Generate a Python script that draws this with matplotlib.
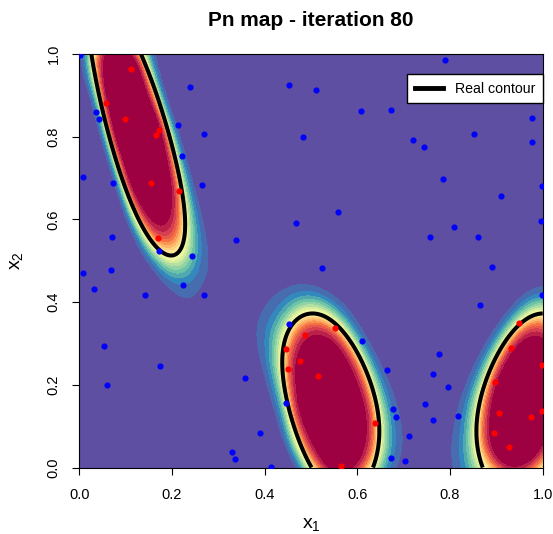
import numpy as np
import matplotlib
matplotlib.use("Agg")
import matplotlib.pyplot as plt
from matplotlib.colors import LinearSegmentedColormap
from matplotlib.lines import Line2D
from math import erf

plt.rcParams['font.family'] = ['Liberation Sans', 'DejaVu Sans']

# --- DATOS ---
UMBRAL = 10.0          # nivel T de la funcion (branin escalada)
ITERACION = 80
RANGOS = (0.2, 0.3)    # rangos del nucleo matern 5/2
SIGMA_LOG = 0.3        # incertidumbre relativa minima (escala log)

# puntos del diseno dentro de la region (f < T)
ROJO_X = [0.111, 0.057, 0.098, 0.172, 0.165, 0.154, 0.216, 0.170,
          0.487, 0.552, 0.446, 0.477, 0.450, 0.516, 0.639, 0.564,
          0.948, 0.931, 0.998, 0.898, 0.998, 0.905, 0.975, 0.895, 0.928]
ROJO_Y = [0.963, 0.882, 0.842, 0.816, 0.804, 0.689, 0.669, 0.554,
          0.320, 0.338, 0.286, 0.258, 0.239, 0.222, 0.107, 0.004,
          0.349, 0.288, 0.249, 0.208, 0.136, 0.133, 0.122, 0.083, 0.050]

# puntos del diseno fuera de la region
AZUL_X = [0.002, 0.239, 0.036, 0.042, 0.214, 0.270, 0.221, 0.008, 0.073, 0.266,
          0.070, 0.339, 0.173, 0.244, 0.008, 0.068, 0.790, 0.452, 0.511, 0.608,
          0.672, 0.977, 0.482, 0.721, 0.743, 0.851, 0.977, 0.784, 0.999, 0.910,
          0.559, 0.996, 0.467, 0.808, 0.757, 0.861, 0.524, 0.890, 0.032, 0.225,
          0.141, 0.270, 0.054, 0.175, 0.059, 0.357, 0.391, 0.329, 0.337, 0.413,
          0.998, 0.864, 0.452, 0.610, 0.777, 0.663, 0.764, 0.795, 0.446, 0.677,
          0.746, 0.684, 0.764, 0.818, 0.711, 0.672, 0.703]
AZUL_Y = [0.998, 0.920, 0.860, 0.842, 0.828, 0.807, 0.753, 0.702, 0.689, 0.683,
          0.557, 0.551, 0.523, 0.511, 0.470, 0.477, 0.985, 0.926, 0.914, 0.862,
          0.865, 0.844, 0.799, 0.793, 0.776, 0.807, 0.787, 0.698, 0.681, 0.657,
          0.617, 0.597, 0.591, 0.582, 0.557, 0.557, 0.482, 0.485, 0.432, 0.441,
          0.418, 0.416, 0.295, 0.245, 0.200, 0.217, 0.084, 0.037, 0.021, 0.001,
          0.418, 0.393, 0.346, 0.306, 0.274, 0.237, 0.225, 0.194, 0.156, 0.142,
          0.154, 0.122, 0.116, 0.124, 0.076, 0.024, 0.015]

SPECTRAL = ["#5E4FA2", "#3288BD", "#66C2A5", "#ABDDA4", "#E6F598", "#FFFFBF",
            "#FEE08B", "#FDAE61", "#F46D43", "#D53E4F", "#9E0142"]


def branin(x1, x2):
    a = x1 * 15 - 5
    b = x2 * 15
    return ((b - 5 / (4 * np.pi ** 2) * a ** 2 + 5 / np.pi * a - 6) ** 2
            + 10 * (1 - 1 / (8 * np.pi)) * np.cos(a) + 10)


def matern52(A, B, theta):
    K = np.ones((len(A), len(B)))
    for k in range(2):
        d = np.abs(A[:, k][:, None] - B[:, k][None, :]) / theta[k]
        K *= (1 + np.sqrt(5) * d + 5.0 / 3.0 * d ** 2) * np.exp(-np.sqrt(5) * d)
    return K


# --- MODELO (kriging ordinario) ---
X = np.column_stack([ROJO_X + AZUL_X, ROJO_Y + AZUL_Y])
y = branin(X[:, 0], X[:, 1])
n = len(y)
uno = np.ones(n)
R = matern52(X, X, RANGOS) + 1e-8 * np.eye(n)
Ri_y = np.linalg.solve(R, y)
Ri_1 = np.linalg.solve(R, uno)
beta = uno @ Ri_y / (uno @ Ri_1)
s2 = (y - beta) @ np.linalg.solve(R, y - beta) / n

g = np.linspace(0, 1, 160)
GX, GY = np.meshgrid(g, g)
G = np.column_stack([GX.ravel(), GY.ravel()])
r = matern52(G, X, RANGOS)
Ri_r = np.linalg.solve(R, r.T)
media = beta + r @ np.linalg.solve(R, y - beta)
var = s2 * (1 - np.sum(r * Ri_r.T, axis=1) + (1 - r @ Ri_1) ** 2 / (uno @ Ri_1))
sd = np.sqrt(np.clip(var, 1e-12, None))

# probabilidad de estar bajo el umbral, en escala log
media = np.clip(media, 0.05, None)
sd_log = np.sqrt(SIGMA_LOG ** 2 + (sd / np.maximum(media, UMBRAL)) ** 2)
phi = np.vectorize(lambda z: 0.5 * (1 + erf(z / np.sqrt(2))))
pn = phi((np.log(UMBRAL) - np.log(media)) / sd_log).reshape(GX.shape)

# funcion real en malla fina para el contorno
h = np.linspace(0, 1, 400)
HX, HY = np.meshgrid(h, h)
FR = branin(HX, HY)

# --- GRAFICO ---
fig = plt.figure(figsize=(5.53, 5.34), dpi=100)
ax = fig.add_axes([0.1432, 0.1245, 0.8382, 0.7744])

paleta = LinearSegmentedColormap.from_list("pn", SPECTRAL)
niveles = np.linspace(0, 1, 21)
ax.contourf(GX, GY, pn, levels=niveles, colors=paleta(np.linspace(0, 1, 20)))
ax.contour(HX, HY, FR, levels=[UMBRAL], colors="black", linewidths=2.9)

ax.scatter(AZUL_X, AZUL_Y, s=20, color="#0000FF", linewidths=0, zorder=3)
ax.scatter(ROJO_X, ROJO_Y, s=20, color="#FF0000", linewidths=0, zorder=3)

ax.set_xlim(0, 1)
ax.set_ylim(0, 1)
ticks = np.arange(0, 1.01, 0.2)
ax.set_xticks(ticks)
ax.set_yticks(ticks)
ax.set_xticklabels([f"{t:.1f}" for t in ticks])
ax.set_yticklabels([f"{t:.1f}" for t in ticks])
ax.tick_params(direction="out", length=5, width=0.8, labelsize=10.5, pad=9.5)
ax.tick_params(axis="y", labelrotation=90, pad=8.5)
for lab in ax.get_yticklabels():
    lab.set_verticalalignment("center")

ax.set_title(f"Pn map - iteration {ITERACION}", fontsize=15, fontweight="bold", pad=20)
ax.set_xlabel(r"$\mathregular{x_1}$", fontsize=14)
ax.set_ylabel(r"$\mathregular{x_2}$", fontsize=14)
ax.xaxis.set_label_coords(0.5, -0.117)
ax.yaxis.set_label_coords(-0.117, 0.5)

leyenda = [Line2D([0], [0], color="black", lw=3.5)]
ax.legend(leyenda, ["Real contour"], loc="upper right", bbox_to_anchor=(1.0, 0.952),
          borderaxespad=0, fancybox=False, framealpha=1, edgecolor="black",
          fontsize=10.2, handlelength=2.0, borderpad=0.55)

fig.savefig("out.png", dpi=100)
